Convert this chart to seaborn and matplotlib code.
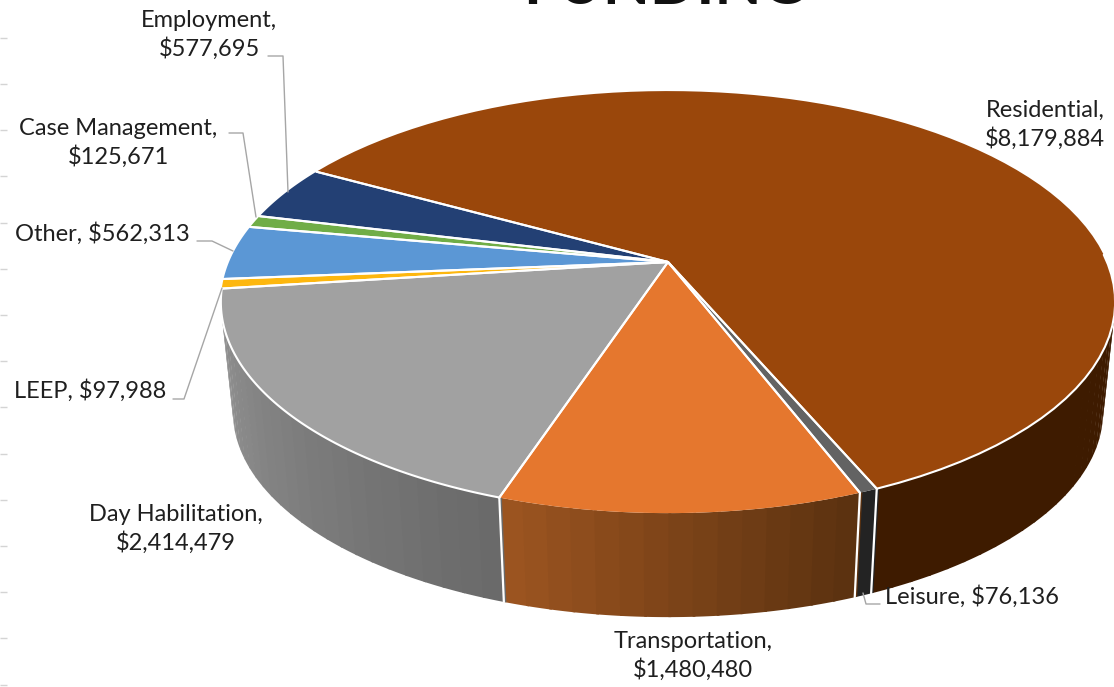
import numpy as np
import pandas as pd
import seaborn as sns
from matplotlib import pyplot as plt

# Dados (sentido horario a partir de Residential)
categories = ['Residential', 'Leisure', 'Transportation', 'Day Habilitation',
              'LEEP', 'Other', 'Case Management', 'Employment']
funding = [8179884, 76136, 1480480, 2414479, 97988, 562313, 125671, 577695]
top_colors = ['#9a470b', '#636363', '#e5772e', '#a1a1a1',
              '#fdb70f', '#5b97d5', '#70ad47', '#234074']
side_start = ['#3e1b00', '#232323', '#9b5420', '#929292',
              '#fdb70f', '#5b97d5', '#70ad47', '#234074']
side_end = ['#3e1b00', '#232323', '#5c3210', '#6a6a6a',
            '#fdb70f', '#5b97d5', '#70ad47', '#234074']
label_text = ['Residential,\n$8,179,884', 'Leisure, $76,136', 'Transportation,\n$1,480,480',
              'Day Habilitation,\n$2,414,479', 'LEEP, $97,988', 'Other, $562,313',
              'Case Management,\n$125,671', 'Employment,\n$577,695']
label_x = [1045, 972, 693, 176, 90, 102, 118, 209]
label_y = [125, 597, 656, 529, 391, 234, 143, 35]

df = pd.DataFrame({'categoria': categories, 'valor': funding})
df['graus'] = df['valor'] / df['valor'].sum() * 360
df['fim'] = 151 - df['graus'].cumsum()
df['inicio'] = df['fim'] + df['graus']

sns.set_theme(style='white')
plt.rcParams['font.family'] = ['Lato', 'DejaVu Sans']


# Perspectiva do disco: angulo -> pixel, scale e drop dao o aro de baixo
def rim(t, scale=1.0, drop=0.0):
    r = np.radians(t)
    w = 1 + 0.19 * np.sin(r)
    x = 668 + scale * 439 * np.cos(r) / w
    y = 262 + drop - scale * 203.4 * np.sin(r) / w
    return x, y


fig = plt.figure(figsize=(11.14, 6.87), dpi=100)
ax = fig.add_axes([0, 0, 1, 1])
ax.set_xlim(0, 1114)
ax.set_ylim(687, 0)
ax.axis('off')

# marcas cinza na esquerda
ax.hlines(np.arange(37.7, 687, 46.2), 0, 7, color='#d4d4d4', lw=1)

# titulo cortado pela borda de cima
ax.text(665, 4, 'FUNDING', ha='center', va='baseline', fontsize=44,
        fontweight='bold', color='#111111')

# lateral: so a parte virada para a frente (191 a 349 graus)
front_a, front_b = 191, 349
for i, row in df.iterrows():
    a = max(row['fim'] % 360 if row['fim'] < 0 else row['fim'], front_a)
    hi = row['inicio'] % 360 if row['inicio'] < 0 else row['inicio']
    if i == 0:
        a, hi = a, front_b
    hi = min(hi, front_b)
    if hi <= a:
        continue
    n = max(int((hi - a) / 2.5), 1)
    shades = sns.blend_palette([side_start[i], side_end[i]], n)
    edges = np.linspace(a, hi, n + 1)
    for k in range(n):
        t = np.linspace(edges[k], edges[k + 1] + 0.3, 6)
        xt, yt = rim(t)
        xb, yb = rim(t[::-1], 0.973, 110.8)
        ax.fill(np.r_[xt, xb], np.r_[yt, yb], color=shades[k], lw=0, zorder=2)

# linhas brancas entre as fatias na lateral
for t in df['inicio'].iloc[1:4]:
    t = t % 360
    xt, yt = rim(t)
    xb, yb = rim(t, 0.973, 110.8)
    ax.plot([xt, xb], [yt, yb], color='white', lw=1.6, zorder=3)

# tampo
for i, row in df.iterrows():
    t = np.linspace(row['inicio'], row['fim'], 80)
    x, y = rim(t)
    ax.fill(np.r_[668, x], np.r_[262, y], color=top_colors[i], lw=0, zorder=4)
    ax.plot([668, x[0]], [262, y[0]], color='white', lw=1.5, zorder=5)
    ax.plot([668, x[-1]], [262, y[-1]], color='white', lw=1.5, zorder=5)
    if categories[i] in ('Residential', 'Day Habilitation'):
        ok = np.sin(np.radians(t)) < 0.05
        ax.plot(x[ok], y[ok], color='white', lw=1.5, zorder=5)

# linhas de chamada
leaders = [([268, 283, 288], [56, 56, 192]), ([229, 243, 256], [133, 133, 217]),
           ([197, 212, 233], [241, 241, 251]), ([173, 184, 222], [399, 399, 288]),
           ([880, 866, 863], [604, 604, 593])]
for lx, ly in leaders:
    ax.plot(lx, ly, color='#a6a6a6', lw=1, zorder=6)

for txt, x, y in zip(label_text, label_x, label_y):
    ax.text(x, y, txt, ha='center', va='center', fontsize=17, color='#1f1f1f',
            linespacing=1.32, zorder=7)

fig.savefig('out.png', dpi=100)
